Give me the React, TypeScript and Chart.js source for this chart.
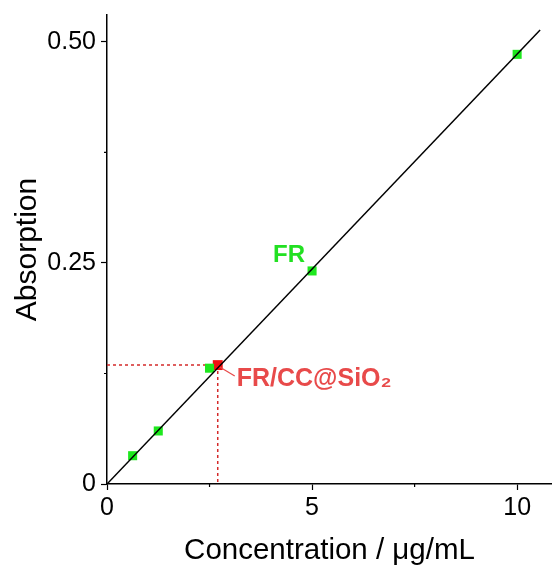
import React, { useEffect, useRef } from "react";
import { Chart, registerables } from "chart.js";
Chart.register(...registerables);

// ---- data ----
const fitX = [0, 10.56];
const fitY = [0, 0.5136];
const frX = [0.625, 1.25, 2.5, 5, 10];
const frY = [0.032, 0.06, 0.131, 0.241, 0.486];
const sampleX = [2.7];
const sampleY = [0.1345];
const xMajor = [0, 5, 10];
const xMinor = [2.5, 7.5];
const yMajor = [0, 0.25, 0.5];
const yMinor = [0.125, 0.375];
const xLabels = ["0", "5", "10"];
const yLabels = ["0", "0.25", "0.50"];
const frLabel = "FR";
const sampleLabel = "FR/CC@SiO\u2082";

const FONT = "'Liberation Sans', Arial, Helvetica, sans-serif";

export default function App() {
  const ref = useRef<HTMLCanvasElement>(null);
  useEffect(() => {
    const canvas = ref.current!;
    const annot = {
      id: "annot",
      beforeDatasetsDraw(chart: any) {
        const { ctx, scales } = chart;
        const xs = scales.x, ys = scales.y;
        const px = xs.getPixelForValue(sampleX[0]);
        const py = ys.getPixelForValue(sampleY[0]);
        ctx.save();
        ctx.strokeStyle = "#d42a2a";
        ctx.lineWidth = 1.5;
        ctx.setLineDash([3, 3]);
        ctx.beginPath();
        ctx.moveTo(xs.left, py);
        ctx.lineTo(px, py);
        ctx.moveTo(px, py);
        ctx.lineTo(px, ys.bottom);
        ctx.stroke();
        ctx.restore();
      },
      afterDatasetsDraw(chart: any) {
        const { ctx, scales } = chart;
        const xs = scales.x, ys = scales.y;
        // FR label
        const fx = xs.getPixelForValue(frX[3]);
        const fy = ys.getPixelForValue(frY[3]);
        ctx.save();
        ctx.font = `bold 24px ${FONT}`;
        ctx.fillStyle = "#22e022";
        ctx.textAlign = "center";
        ctx.textBaseline = "middle";
        ctx.fillText(frLabel, fx - 23, fy - 16);
        // sample label
        const px = xs.getPixelForValue(sampleX[0]);
        const py = ys.getPixelForValue(sampleY[0]);
        ctx.strokeStyle = "#e84a4a";
        ctx.lineWidth = 1.2;
        ctx.beginPath();
        ctx.moveTo(px + 2, py + 2);
        ctx.lineTo(px + 17, py + 11);
        ctx.stroke();
        ctx.fillStyle = "#e84a4a";
        ctx.textAlign = "left";
        ctx.font = `bold 25px ${FONT}`;
        ctx.fillText(sampleLabel, px + 19, py + 14);
        ctx.restore();
      },
      afterDraw(chart: any) {
        const { ctx, scales } = chart;
        const xs = scales.x, ys = scales.y;
        ctx.save();
        ctx.strokeStyle = "#000";
        ctx.lineWidth = 1.2;
        ctx.beginPath();
        xMinor.forEach((v) => {
          const p = xs.getPixelForValue(v);
          ctx.moveTo(p, xs.top);
          ctx.lineTo(p, xs.top + 3);
        });
        yMinor.forEach((v) => {
          const p = ys.getPixelForValue(v);
          ctx.moveTo(ys.right, p);
          ctx.lineTo(ys.right - 3, p);
        });
        ctx.stroke();
        ctx.restore();
      },
    };
    const chart = new Chart(canvas, {
      type: "scatter",
      data: {
        datasets: [
          {
            data: fitX.map((x, i) => ({ x, y: fitY[i] })),
            showLine: true,
            borderColor: "#000",
            borderWidth: 1.5,
            pointRadius: 0,
          },
          {
            data: frX.map((x, i) => ({ x, y: frY[i] })),
            pointStyle: "rect",
            pointRadius: 6.4,
            backgroundColor: "#1ee81e",
            borderWidth: 0,
          },
          {
            data: sampleX.map((x, i) => ({ x, y: sampleY[i] })),
            pointStyle: "rect",
            pointRadius: 7,
            backgroundColor: "#f01010",
            borderWidth: 0,
          },
        ],
      },
      options: {
        responsive: false,
        animation: false,
        layout: { autoPadding: false, padding: { top: 15, right: 0, left: 0, bottom: 0 } },
        plugins: { legend: { display: false }, tooltip: { enabled: false } },
        scales: {
          x: {
            type: "linear",
            min: 0,
            max: 10.85,
            afterBuildTicks: (s: any) => {
              s.ticks = xMajor.map((v) => ({ value: v }));
            },
            afterFit: (s: any) => {
              s.height = 82;
              s.paddingLeft = 0;
              s.paddingRight = 0;
            },
            ticks: {
              color: "#000",
              font: { family: FONT, size: 25 },
              padding: 3,
              maxRotation: 0,
              callback: (v: any) => {
                const i = xMajor.indexOf(Number(v));
                return i >= 0 ? xLabels[i] : "";
              },
            },
            grid: { drawOnChartArea: false, drawTicks: true, tickLength: 6, tickColor: "#000", tickWidth: 1.2 },
            border: { color: "#000", width: 1.5 },
            title: {
              display: true,
              text: "Concentration / \u03bcg/mL",
              color: "#000",
              font: { family: FONT, size: 29.5, lineHeight: 1.0 },
              padding: { top: 0, bottom: 0 },
            },
          },
          y: {
            type: "linear",
            min: 0,
            max: 0.5305,
            afterBuildTicks: (s: any) => {
              s.ticks = yMajor.map((v) => ({ value: v }));
            },
            afterFit: (s: any) => {
              s.width = 107;
              s.paddingTop = 0;
              s.paddingBottom = 0;
            },
            ticks: {
              color: "#000",
              font: { family: FONT, size: 25 },
              padding: 5,
              callback: (v: any) => {
                const i = yMajor.indexOf(Number(v));
                return i >= 0 ? yLabels[i] : "";
              },
            },
            grid: { drawOnChartArea: false, drawTicks: true, tickLength: 6, tickColor: "#000", tickWidth: 1.2 },
            border: { color: "#000", width: 1.5 },
            title: {
              display: true,
              text: "Absorption",
              color: "#000",
              font: { family: FONT, size: 30 },
              padding: { top: 10, bottom: 0 },
            },
          },
        },
      },
      plugins: [annot],
    } as any);
    return () => chart.destroy();
  }, []);
  return (
    <canvas
      ref={ref}
      width={552}
      height={566}
      style={{ position: "absolute", left: 0, top: 0, width: 552, height: 566 }}
    />
  );
}
